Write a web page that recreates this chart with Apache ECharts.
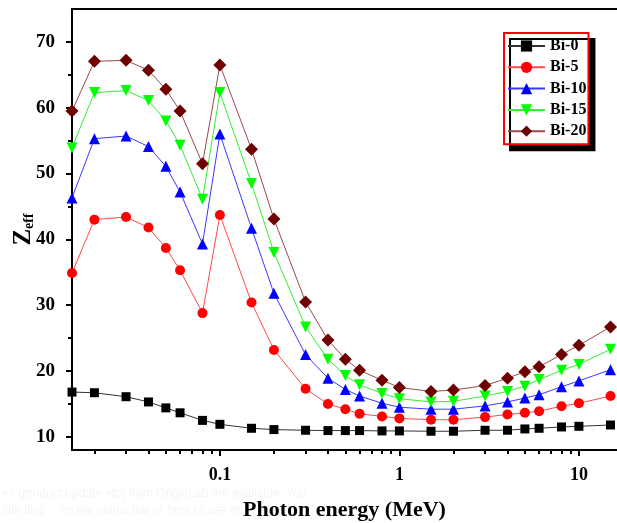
<!DOCTYPE html>
<html>
<head>
<meta charset="utf-8">
<script src="https://cdn.jsdelivr.net/npm/echarts@6/dist/echarts.min.js"></script>
<style>
html, body { margin: 0; padding: 0; background: #fff; }
#chart { width: 617px; height: 523px; }
</style>
</head>
<body>
<div id="chart"></div>
<script>
// photon energy (MeV)
const energy = [0.015, 0.02, 0.03, 0.04, 0.05, 0.06, 0.08, 0.1, 0.15, 0.2, 0.3, 0.4, 0.5, 0.6, 0.8, 1, 1.5, 2, 3, 4, 5, 6, 8, 10, 15];
const bi0  = [16.8, 16.7, 16.1, 15.3, 14.4, 13.65, 12.5, 11.9, 11.3, 11.1, 11.0, 10.95, 10.95, 10.95, 10.9, 10.9, 10.85, 10.85, 11.0, 11.0, 11.2, 11.3, 11.5, 11.6, 11.8];
const bi5  = [34.9, 43.0, 43.4, 41.8, 38.7, 35.3, 28.8, 43.7, 30.4, 23.2, 17.3, 15.0, 14.2, 13.5, 13.1, 12.8, 12.6, 12.6, 13.0, 13.4, 13.65, 13.9, 14.65, 15.1, 16.2];
const bi10 = [46.3, 55.3, 55.7, 54.1, 51.1, 47.2, 39.3, 56.0, 41.7, 31.8, 22.5, 18.9, 17.2, 16.2, 15.1, 14.5, 14.2, 14.2, 14.7, 15.3, 15.9, 16.4, 17.6, 18.5, 20.2];
const bi15 = [53.9, 62.3, 62.6, 61.1, 58.0, 54.3, 46.1, 62.3, 48.5, 38.0, 26.7, 21.8, 19.3, 17.9, 16.6, 15.8, 15.3, 15.4, 16.2, 16.9, 17.7, 18.7, 20.1, 21.0, 23.3];
const bi20 = [59.5, 67.05, 67.2, 65.7, 62.8, 59.5, 51.5, 66.5, 53.7, 43.1, 30.5, 24.7, 21.8, 20.1, 18.6, 17.5, 16.9, 17.1, 17.8, 18.9, 19.9, 20.65, 22.5, 23.9, 26.7];

const xMajorTicks = [0.1, 1, 10];
const xMinorTicks = [0.02, 0.03, 0.04, 0.05, 0.06, 0.07, 0.08, 0.09,
  0.2, 0.3, 0.4, 0.5, 0.6, 0.7, 0.8, 0.9,
  2, 3, 4, 5, 6, 7, 8, 9];
const yMajorTicks = [10, 20, 30, 40, 50, 60, 70];
const yMinorTicks = [15, 25, 35, 45, 55, 65];

const serif = '"Liberation Serif", "DejaVu Serif", serif';
const xMin = 0.015, xMax = 16.3, yMin = 8, yMax = 75;

const chart = echarts.init(document.getElementById('chart'));

function pairs(vals) {
  return energy.map((e, i) => [e, vals[i]]);
}

function makeSeries(name, vals, symbol, size, color, lineColor, rotate) {
  return {
    name: name,
    type: 'line',
    data: pairs(vals),
    symbol: symbol,
    symbolSize: size,
    symbolRotate: rotate || 0,
    showAllSymbol: true,
    itemStyle: { color: color },
    lineStyle: { color: lineColor, width: 1 },
    emphasis: { disabled: true },
    z: 3
  };
}

const option = {
  animation: false,
  backgroundColor: '#fff',
  grid: { left: 72, right: 0, top: 9, bottom: 73, containLabel: false, outerBoundsMode: 'none' },
  legend: {
    orient: 'vertical',
    left: 504,
    top: 33,
    padding: [5, 2, 5, 3],
    itemWidth: 37,
    itemHeight: 14,
    itemGap: 5.3,
    backgroundColor: '#fff',
    borderColor: '#ff0000',
    borderWidth: 2,
    shadowColor: '#000',
    shadowBlur: 0,
    shadowOffsetX: 6,
    shadowOffsetY: 6,
    textStyle: { fontFamily: serif, fontWeight: 'bold', fontSize: 16, color: '#000' },
    data: ['Bi-0', 'Bi-5', 'Bi-10', 'Bi-15', 'Bi-20']
  },
  xAxis: [
    {
      type: 'log',
      logBase: 10,
      min: xMin,
      max: xMax,
      position: 'bottom',
      name: 'Photon energy (MeV)',
      nameLocation: 'middle',
      nameGap: 49,
      nameTextStyle: { fontFamily: serif, fontWeight: 'bold', fontSize: 22, color: '#000' },
      axisLine: { lineStyle: { color: '#000', width: 2 } },
      axisTick: { inside: false, length: 6, customValues: xMajorTicks, lineStyle: { color: '#000', width: 2 } },
      axisLabel: { customValues: xMajorTicks, margin: 16, fontFamily: serif, fontWeight: 'bold', fontSize: 18, color: '#000' },
      splitLine: { show: false }
    },
    {
      type: 'log',
      logBase: 10,
      min: xMin,
      max: xMax,
      position: 'top',
      axisLine: { lineStyle: { color: '#000', width: 2 } },
      axisTick: { show: false },
      axisLabel: { show: false },
      splitLine: { show: false }
    },
    {
      type: 'log',
      logBase: 10,
      min: xMin,
      max: xMax,
      position: 'bottom',
      axisLine: { show: false },
      axisTick: { inside: false, length: 4, customValues: xMinorTicks, lineStyle: { color: '#000', width: 2 } },
      axisLabel: { show: false },
      splitLine: { show: false }
    }
  ],
  yAxis: [
    {
      type: 'value',
      min: yMin,
      max: yMax,
      position: 'left',
      name: '{z|Z}{s|eff}',
      nameLocation: 'middle',
      nameRotate: 90,
      nameGap: 36,
      nameMoveOverlap: false,
      nameTextStyle: {
        rich: {
          z: { fontFamily: serif, fontWeight: 'bold', fontSize: 25, color: '#000' },
          s: { fontFamily: serif, fontWeight: 'bold', fontSize: 14, color: '#000', verticalAlign: 'bottom', padding: [10, 0, 0, 0] }
        }
      },
      axisLine: { show: true, lineStyle: { color: '#000', width: 2 } },
      axisTick: { show: true, inside: false, length: 6, customValues: yMajorTicks, lineStyle: { color: '#000', width: 2 } },
      axisLabel: { customValues: yMajorTicks, margin: 17, fontFamily: serif, fontWeight: 'bold', fontSize: 19, color: '#000' },
      splitLine: { show: false }
    },
    {
      type: 'value',
      min: yMin,
      max: yMax,
      position: 'left',
      axisLine: { show: false },
      axisTick: { show: true, inside: false, length: 4, customValues: yMinorTicks, lineStyle: { color: '#000', width: 2 } },
      axisLabel: { show: false },
      splitLine: { show: false }
    }
  ],
  graphic: [
    {
      type: 'text',
      left: 2,
      top: 485,
      silent: true,
      style: {
        text: 'es (product update etc) from OriginLab are available. You\ntitle flag     on the status bar or here to see th',
        fontFamily: '"Liberation Sans", Arial, sans-serif',
        fontSize: 12,
        lineHeight: 17,
        fill: '#f5f5f5'
      }
    }
  ],
  series: [
    makeSeries('Bi-0', bi0, 'rect', 9, '#000000', '#333333'),
    makeSeries('Bi-5', bi5, 'circle', 10, '#ff0000', '#ff4a4a'),
    makeSeries('Bi-10', bi10, 'triangle', 11, '#0000ff', '#3a3aff'),
    makeSeries('Bi-15', bi15, 'triangle', 11, '#00ff00', '#33ee33', 180),
    makeSeries('Bi-20', bi20, 'diamond', 13, '#6e0000', '#9a4a4a')
  ]
};

chart.setOption(option);
</script>
</body>
</html>
